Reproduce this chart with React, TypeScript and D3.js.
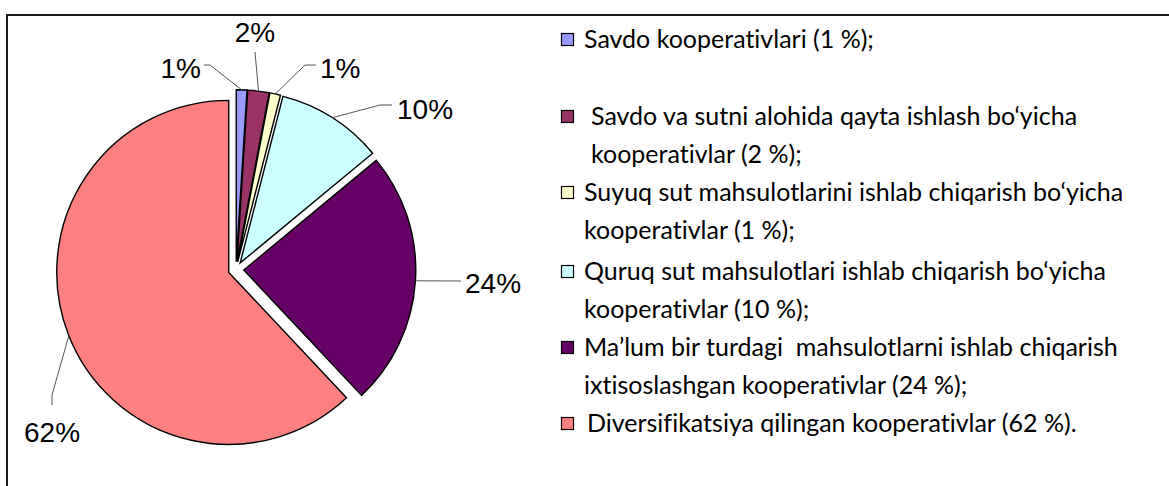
import React from 'react'
import * as d3 from 'd3'

// shares of cooperatives, %
const categories = ['savdo', 'savdoSut', 'suyuq', 'quruq', 'malum', 'divers']
const values = [1, 2, 1, 10, 24, 62]
const colors = ['#9999FF', '#993366', '#FFFFCC', '#CCFFFF', '#660066', '#FF8080']
const legendLines = [
    ['Savdo kooperativlari (1 %);'],
    ['Savdo va sutni alohida qayta ishlash bo\u2018yicha', 'kooperativlar (2 %);'],
    ['Suyuq sut mahsulotlarini ishlab chiqarish bo\u2018yicha', 'kooperativlar (1 %);'],
    ['Quruq sut mahsulotlari ishlab chiqarish bo\u2018yicha', 'kooperativlar (10 %);'],
    ['Ma\u2019lum bir turdagi  mahsulotlarni ishlab chiqarish', 'ixtisoslashgan kooperativlar (24 %);'],
    ['Diversifikatsiya qilingan kooperativlar (62 %).'],
]

const W = 1169
const H = 486
const cx = 236
const cy = 269.5
const R = 172
const explode = 7.8

// data label layout, relative to pie centre
const labelLayout = [
    { dx: -35, dy: -191.5, anchor: 'end', leader: [[-26, -204.5], [-32, -204.5]] },
    { dx: 19, dy: -227.5, anchor: 'middle', leader: [[19, -217.5]] },
    { dx: 84, dy: -191.5, anchor: 'start', leader: [[69, -204.5], [80, -204.5]] },
    { dx: 161, dy: -150.5, anchor: 'start', leader: [[144, -164.5], [156, -164.5]] },
    { dx: 229, dy: 23.5, anchor: 'start', leader: [[225, 11.5]] },
    { dx: -212, dy: 172.5, anchor: 'start', leader: [[-184, 125.5], [-184, 135.5]] },
]

// legend rows: baseline of first line, indent
const legendRows = [
    { y: 48, indent: 0 },
    { y: 125, indent: 7 },
    { y: 201, indent: 0 },
    { y: 280, indent: 0 },
    { y: 356, indent: 0 },
    { y: 432, indent: 3 },
]
const lineGap = 38

const App = () => {
    const pie = d3.pie<number>().sort(null).value(d => d)
    const arcs = pie(values)
    const arc = d3.arc<d3.PieArcDatum<number>>().innerRadius(0).outerRadius(R)

    const mid = (a: d3.PieArcDatum<number>) => (a.startAngle + a.endAngle) / 2

    return (
        <svg width={W} height={H} style={{ position: 'absolute', left: 0, top: 0, background: '#fff' }}>
            <rect x={7} y={15} width={W + 20} height={H + 20} fill="none" stroke="#1a1a1a" strokeWidth={2} />

            <g transform={`translate(${cx},${cy})`}>
                {arcs.map((a, i) => {
                    const m = mid(a)
                    const ox = Math.sin(m) * explode
                    const oy = -Math.cos(m) * explode
                    return (
                        <path key={categories[i]} d={arc(a) ?? ''} transform={`translate(${ox},${oy})`}
                            fill={colors[i]} stroke="#000" strokeWidth={1.4} strokeLinejoin="miter" />
                    )
                })}
                {arcs.map((a, i) => {
                    const m = mid(a)
                    const r = R + explode
                    const start = [Math.sin(m) * r, -Math.cos(m) * r]
                    const lay = labelLayout[i]
                    const pts = [start, ...lay.leader]
                    return (
                        <g key={'lbl' + i}>
                            <path d={d3.line()(pts as [number, number][]) ?? ''} fill="none" stroke="#555" strokeWidth={1} />
                            <text x={lay.dx} y={lay.dy} textAnchor={lay.anchor as any}
                                fontFamily="'Liberation Sans', Arial, sans-serif" fontSize={28} fill="#000">
                                {`${values[i]}%`}
                            </text>
                        </g>
                    )
                })}
            </g>

            <g fontFamily="Lato, 'Noto Sans', sans-serif" fontSize={25} fill="#000"
                style={{ fontVariantLigatures: 'none' }}>
                {legendRows.map((row, i) => (
                    <g key={'leg' + i}>
                        <rect x={561.5} y={row.y - 14.5} width={12} height={12} fill={colors[i]} stroke="#000" strokeWidth={1.2} />
                        {legendLines[i].map((ln, j) => (
                            <text key={j} x={584 + row.indent} y={row.y + j * lineGap} style={{ whiteSpace: 'pre' }}>{ln}</text>
                        ))}
                    </g>
                ))}
            </g>
        </svg>
    )
}

export default App
